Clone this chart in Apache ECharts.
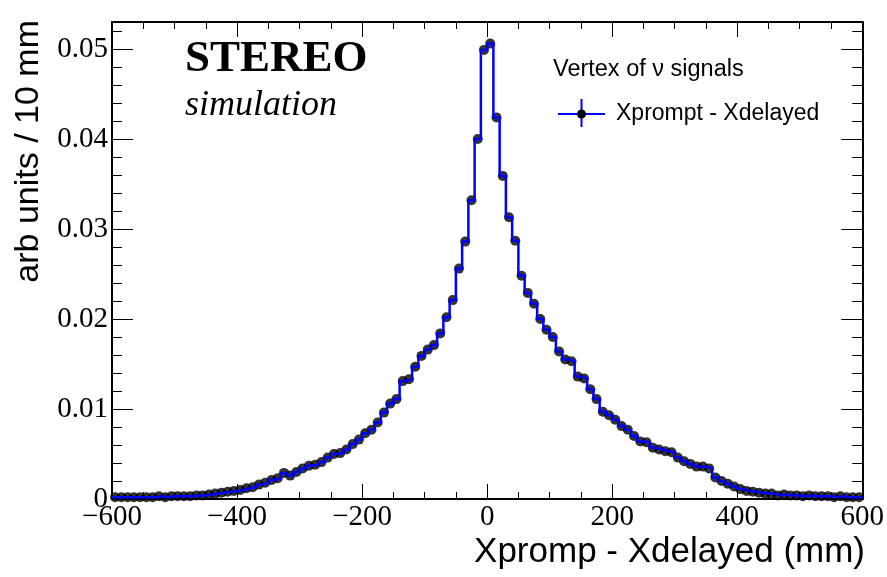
<!DOCTYPE html>
<html>
<head>
<meta charset="utf-8">
<script src="https://cdn.jsdelivr.net/npm/echarts@6/dist/echarts.min.js"></script>
<style>
html,body{margin:0;padding:0;background:#fff;}
#c{width:887px;height:577px;}
</style>
</head>
<body>
<div id="c"></div>
<script>
// Histogram binning
const xMin = -600;
const xMax = 600;
const binWidth = 10;
// Bin contents (arb units / 10 mm), bins from -600 to 600
const values = [
  0.0002,0.0002,0.0002,0.0002,0.0002,0.0002,0.0002,0.0003,0.0002,0.0003,
  0.0003,0.0003,0.0003,0.0004,0.0004,0.0005,0.0006,0.0007,0.0008,0.0009,
  0.0010,0.0012,0.0013,0.0016,0.0018,0.0021,0.0023,0.0029,0.0026,0.0030,
  0.0034,0.0037,0.0038,0.0041,0.0046,0.0050,0.0051,0.0055,0.0061,0.0066,
  0.0073,0.0077,0.0085,0.0096,0.0106,0.0111,0.0131,0.0133,0.0147,0.0159,
  0.0166,0.0171,0.0184,0.0202,0.0221,0.0256,0.0286,0.0332,0.0400,0.0499,
  0.0506,0.0424,0.0359,0.0313,0.0287,0.0248,0.0229,0.0217,0.0200,0.0188,
  0.0180,0.0164,0.0155,0.0153,0.0136,0.0134,0.0122,0.0111,0.0097,0.0093,
  0.0088,0.0081,0.0077,0.0070,0.0064,0.0063,0.0057,0.0055,0.0053,0.0052,
  0.0046,0.0042,0.0039,0.0036,0.0036,0.0034,0.0024,0.0020,0.0017,0.0014,
  0.0011,0.0009,0.0008,0.0007,0.0006,0.0006,0.0004,0.0005,0.0004,0.0004,
  0.0003,0.0004,0.0003,0.0003,0.0003,0.0002,0.0003,0.0002,0.0002,0.0002
];
const yMin = 0;
const yMax = 0.053;
const yMajorTicks = [0, 0.01, 0.02, 0.03, 0.04, 0.05];
const yMinorTicks = [0,0.002,0.004,0.006,0.008,0.010,0.012,0.014,0.016,0.018,0.020,0.022,0.024,0.026,0.028,0.030,0.032,0.034,0.036,0.038,0.040,0.042,0.044,0.046,0.048,0.050,0.052];
const xTickInterval = 200;

const seriesName = 'Xprompt - Xdelayed';
const legendHeader = 'Vertex of \u03bd signals';
const xTitle = 'Xpromp - Xdelayed (mm)';
const yTitle = 'arb units / 10 mm';

const stepData = values.map((v, i) => [xMin + i * binWidth, v]);
stepData.push([xMax, values[values.length - 1]]);
const pointData = values.map((v, i) => [xMin + (i + 0.5) * binWidth, v]);

const serif = 'Liberation Serif';
const labelSize = 29;

function xAx(pos, showLabel) {
  return {
    type: 'value', position: pos, min: xMin, max: xMax, interval: xTickInterval,
    axisLine: {show: true, onZero: false, lineStyle: {color: '#000', width: 2}},
    axisTick: {show: true, inside: true, length: 15, lineStyle: {color: '#000', width: 1}},
    minorTick: {show: true, splitNumber: 4, length: 7, lineStyle: {color: '#000', width: 1}},
    splitLine: {show: false},
    axisLabel: {show: showLabel, margin: 4, color: '#000', fontFamily: serif, fontSize: labelSize,
      formatter: v => String(v).replace('-', '\u2212')}
  };
}
function yAx(pos, ticks, len, showLabel, showLine) {
  return {
    type: 'value', position: pos, min: yMin, max: yMax,
    axisLine: {show: showLine, onZero: false, lineStyle: {color: '#000', width: 2}},
    axisTick: {show: true, inside: true, length: len, customValues: ticks, lineStyle: {color: '#000', width: 1}},
    splitLine: {show: false},
    axisLabel: {show: showLabel, customValues: yMajorTicks, margin: 4, color: '#000', fontFamily: serif, fontSize: labelSize,
      formatter: v => (v === 0 ? '0' : v.toFixed(2))}
  };
}

const chart = echarts.init(document.getElementById('c'), null, {renderer: 'canvas'});
chart.setOption({
  backgroundColor: '#fff',
  animation: false,
  grid: {left: 112, right: 22, top: 22, bottom: 78, containLabel: false},
  xAxis: [xAx('bottom', true), xAx('top', false)],
  yAxis: [
    yAx('left', yMajorTicks, 21, true, true),
    yAx('right', yMajorTicks, 21, false, true),
    yAx('left', yMinorTicks, 10, false, false),
    yAx('right', yMinorTicks, 10, false, false)
  ],
  series: [
    {
      type: 'scatter', name: seriesName, xAxisIndex: 0, yAxisIndex: 0,
      data: pointData, symbol: 'circle', symbolSize: 10,
      itemStyle: {color: '#000'}, z: 2, silent: true
    },
    {
      type: 'line', name: seriesName, xAxisIndex: 0, yAxisIndex: 0,
      data: stepData, step: 'end', showSymbol: false, symbol: 'none',
      lineStyle: {color: '#0000ff', width: 2.5}, z: 3, silent: true
    }
  ],
  graphic: [
    {type: 'text', x: 185, y: 59, style: {text: 'STEREO', font: 'bold 45px "Liberation Serif"', fill: '#000', textAlign: 'left', textVerticalAlign: 'middle'}},
    {type: 'text', x: 185, y: 106, style: {text: 'simulation', font: 'italic 36px "Liberation Serif"', fill: '#000', textAlign: 'left', textVerticalAlign: 'middle'}},
    {type: 'text', x: 553, y: 70, style: {text: legendHeader, font: '23.5px "Liberation Sans"', fill: '#000', textAlign: 'left', textVerticalAlign: 'middle'}},
    {type: 'line', shape: {x1: 558, y1: 114, x2: 605, y2: 114}, style: {stroke: '#0000ff', lineWidth: 2}},
    {type: 'line', shape: {x1: 581.5, y1: 99, x2: 581.5, y2: 127}, style: {stroke: '#0000ff', lineWidth: 2}},
    {type: 'circle', shape: {cx: 581.5, cy: 114, r: 4.5}, style: {fill: '#000'}},
    {type: 'text', x: 616, y: 114, style: {text: seriesName, font: '23px "Liberation Sans"', fill: '#000', textAlign: 'left', textVerticalAlign: 'middle'}},
    {type: 'text', x: 865, y: 552, style: {text: xTitle, font: '35px "Liberation Sans"', fill: '#000', textAlign: 'right', textVerticalAlign: 'middle'}},
    {type: 'text', x: 29, y: 20, rotation: Math.PI / 2, style: {text: yTitle, font: '34px "Liberation Sans"', fill: '#000', textAlign: 'right', textVerticalAlign: 'middle'}}
  ]
});
</script>
</body>
</html>
